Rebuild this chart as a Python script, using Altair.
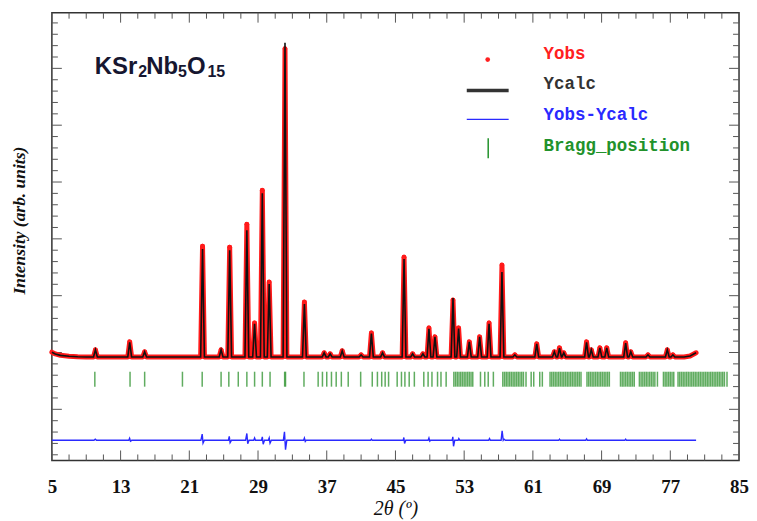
import altair as alt
import pandas as pd

# ---------------- data ----------------
X_TICKS = list(range(5, 86, 2))
X_LABELS = list(range(5, 86, 8))
Y_TICKS = list(range(-1800, 5801, 200))

# background (start / end of the pattern)
BG_X = [5.0, 5.4, 6.0, 7.0, 8.0, 9.0, 78.6, 79.3, 80.0]
BG_Y = [5, -25, -50, -65, -75, -78, -78, -62, -5]
BASE = -78

PEAK_POS = [10.07, 14.06, 15.8, 22.54, 24.7, 25.7, 27.7, 28.6, 29.5, 30.3,
            32.14, 34.4, 36.7, 37.4, 38.8, 41.0, 42.2, 43.5, 46.0, 47.0,
            48.2, 48.9, 49.6, 51.7, 52.35, 53.6, 54.8, 55.9, 57.4, 58.9,
            61.45, 63.5, 64.1, 64.6, 67.25, 67.8, 68.8, 69.6, 71.8, 72.4,
            74.4, 76.65, 77.3]
YOBS_PEAK = [47, 187, 12, 1871, 47, 1854, 2257, 521, 2854, 1240,
             5344, 889, -6, -24, 29, -41, 345, -6, 1678, -24,
             -24, 433, 275, 924, 433, 187, 275, 521, 1538, -41,
             152, 12, 82, -6, 187, 47, 82, 82, 170, 12,
             -41, 47, -41]
YCALC_PEAK = [47, 180, 12, 1819, 47, 1801, 2152, 505, 2801, 1205,
              5450, 854, -6, -24, 29, -41, 335, -6, 1643, -24,
              -24, 415, 275, 959, 420, 187, 275, 505, 1415, -41,
              152, 12, 75, -6, 180, 47, 82, 82, 165, 12,
              -41, 47, -41]

DIFF_X = [5.0, 9.9, 10.05, 10.2, 13.95, 14.05, 14.15, 14.3, 22.35, 22.5,
          22.6, 22.75, 25.55, 25.65, 25.75, 25.9, 27.55, 27.7, 27.8, 27.95,
          28.5, 28.6, 28.7, 29.4, 29.5, 29.6, 29.75, 30.2, 30.3, 30.4,
          30.55, 31.95, 32.08, 32.2, 32.35, 34.3, 34.4, 34.5, 34.6, 42.1,
          42.2, 42.3, 45.9, 45.98, 46.06, 46.2, 48.8, 48.9, 49.0, 49.1,
          51.6, 51.68, 51.76, 51.9, 52.3, 52.38, 52.5, 55.85, 55.95, 56.05,
          57.3, 57.42, 57.55, 57.65, 57.8, 64.0, 64.1, 64.2, 67.15, 67.25,
          67.35, 71.7, 71.8, 71.9, 80.0]
DIFF_Y = [0, 0, 20, 0, 0, 35, -15, 0, 0, 110,
          -50, 0, 0, 70, -40, 0, 0, 120, -60, 0,
          0, 40, 0, 0, 60, -70, 0, 0, 40, -50,
          0, 0, 150, -165, 0, 0, 40, -20, 0, 0,
          20, 0, 0, 50, -55, 0, 0, 40, -15, 0,
          0, 60, -105, 0, 0, 30, 0, 0, 30, 0,
          0, 165, 0, 20, 0, 0, 20, 0, 0, 25,
          0, 0, 20, 0, 0]
DIFF_OFFSET = -1545

BRAGG_POS = [10.0, 14.1, 15.8, 20.2, 22.5, 24.7, 25.6, 26.7, 27.7, 28.6,
             29.5, 30.4, 32.1, 32.2, 34.35, 36.0, 36.5, 37.0, 37.55, 38.1,
             38.7, 39.5, 40.95, 42.3, 42.9, 43.4, 43.8, 44.2, 45.2, 45.7,
             46.1, 46.6, 47.2, 48.3, 48.8, 49.25, 49.9, 50.3, 50.9, 51.8,
             52.0, 52.2, 52.4, 52.6, 52.8, 53.0, 53.2, 53.4, 53.6, 53.8,
             54.0, 54.9, 55.4, 55.8, 56.4, 57.5, 57.7, 57.9, 58.1, 58.3,
             58.5, 58.7, 58.9, 59.1, 59.3, 59.5, 59.7, 59.9, 60.2, 60.8,
             61.1, 61.8, 62.1, 63.0, 63.2, 63.4, 63.6, 63.8, 64.0, 64.2,
             64.4, 64.6, 64.8, 65.0, 65.2, 65.4, 65.6, 65.8, 66.0, 66.2,
             66.4, 66.6, 67.3, 67.5, 67.7, 67.9, 68.1, 68.3, 68.5, 68.7,
             68.9, 69.1, 69.3, 69.5, 69.7, 69.9, 71.2, 71.4, 71.6, 71.8,
             72.0, 72.2, 72.4, 72.6, 72.8, 73.4, 73.6, 73.8, 74.0, 74.2,
             74.4, 74.6, 74.8, 75.0, 75.2, 75.5, 76.2, 76.4, 76.6, 76.8,
             77.0, 77.2, 77.4, 77.9, 78.1, 78.3, 78.5, 78.7, 78.9, 79.1,
             79.3, 79.5, 79.7, 79.9, 80.1, 80.3, 80.5, 80.7, 80.9, 81.1,
             81.3, 81.5, 81.7, 81.9, 82.1, 82.3, 82.5, 82.7, 82.9, 83.1,
             83.3, 83.6]

LEGEND_LABELS = ["Yobs", "Ycalc", "Yobs-Ycalc", "Bragg_position"]
LEGEND_COLORS = ["#ff2020", "#333333", "#2a2aff", "#22922b"]

TITLE_PARTS = ["KSr", "2", "Nb", "5", "O", "15"]

# ---------------- tables ----------------
HALF_W = 0.22
rows = [(x, y, y) for x, y in zip(BG_X, BG_Y)]
for p, o, c in zip(PEAK_POS, YOBS_PEAK, YCALC_PEAK):
    rows += [(p - HALF_W, BASE, BASE), (p, o, c), (p + HALF_W, BASE, BASE)]
profile = pd.DataFrame(rows, columns=["tt", "yobs", "ycalc"]).sort_values("tt")
peaks_df = pd.DataFrame({"tt": PEAK_POS, "yobs": YOBS_PEAK})
diff_df = pd.DataFrame({"tt": DIFF_X, "d": [v + DIFF_OFFSET for v in DIFF_Y]})
bragg_df = pd.DataFrame({"tt": BRAGG_POS})

x_major = pd.DataFrame({"v": X_LABELS})
x_minor = pd.DataFrame({"v": [t for t in X_TICKS if t not in X_LABELS]})
y_major = pd.DataFrame({"v": [t for t in Y_TICKS if t % 1000 == 0]})
y_minor = pd.DataFrame({"v": [t for t in Y_TICKS if t % 1000 != 0]})

W, H = 689, 449
xscale = alt.Scale(domain=[5, 85], nice=False, zero=False)
yscale = alt.Scale(domain=[-1900, 5980], nice=False, zero=False)

ax_labels = alt.Axis(orient="bottom", values=X_LABELS, ticks=False, tickSize=0,
                     domain=False, grid=False, labelFont="Liberation Serif",
                     labelFontWeight="bold", labelFontSize=19, labelColor="#111111",
                     labelPadding=17, labelFlush=False, labelOverlap=False,
                     title="2θ (º)", titleFont="Liberation Serif",
                     titleFontStyle="italic", titleFontWeight="normal",
                     titleFontSize=20, titleColor="#111111", titlePadding=2)
ay_title = alt.Axis(orient="left", ticks=False, labels=False, domain=False, grid=False,
                    title="Intensity (arb. units)", titleFont="Liberation Serif",
                    titleFontStyle="italic", titleFontWeight="bold", titleFontSize=17.5,
                    titleColor="#111111", titleX=-32, titleY=208, titleAngle=270,
                    titleAlign="center", titleBaseline="middle")

TICK_COLOR = "#555555"
MAJ, MIN = 10, 6


def xticks(df, y0, y1):
    return alt.Chart(df).mark_rule(color=TICK_COLOR, strokeWidth=1).encode(
        x=alt.X("v:Q", scale=xscale, axis=None), y=alt.value(y0), y2=alt.value(y1))


def yticks(df, x0, x1):
    return alt.Chart(df).mark_rule(color=TICK_COLOR, strokeWidth=1).encode(
        y=alt.Y("v:Q", scale=yscale, axis=None), x=alt.value(x0), x2=alt.value(x1))


tick_layers = [
    xticks(x_major, H, H - MAJ), xticks(x_minor, H, H - MIN),
    xticks(x_major, 0, MAJ), xticks(x_minor, 0, MIN),
    yticks(y_major, 0, MAJ), yticks(y_minor, 0, MIN),
    yticks(y_major, W, W - MAJ), yticks(y_minor, W, W - MIN),
]

bragg = alt.Chart(bragg_df).mark_rule(color="#238c23", strokeWidth=1.5, opacity=0.72).encode(
    x=alt.X("tt:Q", scale=xscale, axis=None),
    y=alt.value(360), y2=alt.value(375))

diff = alt.Chart(diff_df).mark_line(color="#2a2aff", strokeWidth=1.4).encode(
    x=alt.X("tt:Q", scale=xscale, axis=None),
    y=alt.Y("d:Q", scale=yscale, axis=None))

obs_line = alt.Chart(profile).mark_line(color="#ff1a1a", strokeWidth=5,
                                        strokeJoin="round", strokeCap="round").encode(
    x=alt.X("tt:Q", scale=xscale, axis=ax_labels),
    y=alt.Y("yobs:Q", scale=yscale, axis=ay_title))

obs_pts = alt.Chart(peaks_df).mark_circle(color="#ff1a1a", size=22, opacity=1).encode(
    x=alt.X("tt:Q", scale=xscale, axis=None),
    y=alt.Y("yobs:Q", scale=yscale, axis=None))

calc_line = alt.Chart(profile).mark_line(color="#111111", strokeWidth=1.6).encode(
    x=alt.X("tt:Q", scale=xscale, axis=None),
    y=alt.Y("ycalc:Q", scale=yscale, axis=None))

# legend
LEG_TX = 493
LEG_TY = [41.5, 72, 103, 134]
leg_texts = [
    alt.Chart(pd.DataFrame({"t": [lab]})).mark_text(
        font="Liberation Mono", fontSize=17.5, fontWeight="bold", align="left",
        baseline="middle", color=col
    ).encode(x=alt.value(LEG_TX), y=alt.value(ty), text="t:N")
    for lab, col, ty in zip(LEGEND_LABELS, LEGEND_COLORS, LEG_TY)
]
one = pd.DataFrame({"k": [0]})
leg_dot = alt.Chart(one).mark_circle(color=LEGEND_COLORS[0], size=22, opacity=1).encode(
    x=alt.value(437), y=alt.value(47))
leg_black = alt.Chart(one).mark_rule(color=LEGEND_COLORS[1], strokeWidth=3.5).encode(
    x=alt.value(416), x2=alt.value(458), y=alt.value(78))
leg_blue = alt.Chart(one).mark_rule(color=LEGEND_COLORS[2], strokeWidth=1.3).encode(
    x=alt.value(416), x2=alt.value(458), y=alt.value(107))
leg_green = alt.Chart(one).mark_rule(color=LEGEND_COLORS[3], strokeWidth=1.5).encode(
    x=alt.value(437.5), y=alt.value(126), y2=alt.value(146))

# compound title (with subscripts)
TITLE_X = [43, 86.5, 94.5, 126.5, 135.5, 156]
TITLE_Y = [61, 64, 61, 64, 61, 64]
TITLE_FS = [24, 16, 24, 16, 24, 16]
title_marks = [
    alt.Chart(pd.DataFrame({"t": [part]})).mark_text(
        font="Liberation Sans", fontWeight="bold", fontSize=fs, align="left",
        baseline="alphabetic", color="#161630"
    ).encode(x=alt.value(tx), y=alt.value(ty), text="t:N")
    for part, tx, ty, fs in zip(TITLE_PARTS, TITLE_X, TITLE_Y, TITLE_FS)
]

chart = alt.layer(
    *tick_layers, bragg, diff, obs_line, obs_pts, calc_line,
    leg_dot, leg_black, leg_blue, leg_green, *leg_texts, *title_marks
).resolve_axis(x="independent", y="independent").properties(
    width=W, height=H,
    padding={"left": 44, "top": 4, "right": 10, "bottom": 60},
    autosize=alt.AutoSizeParams(type="none"),
    background="white",
).configure_view(stroke="#333333", strokeWidth=1.5)

chart.save("out.html", embed_options={"renderer": "svg", "actions": False})
